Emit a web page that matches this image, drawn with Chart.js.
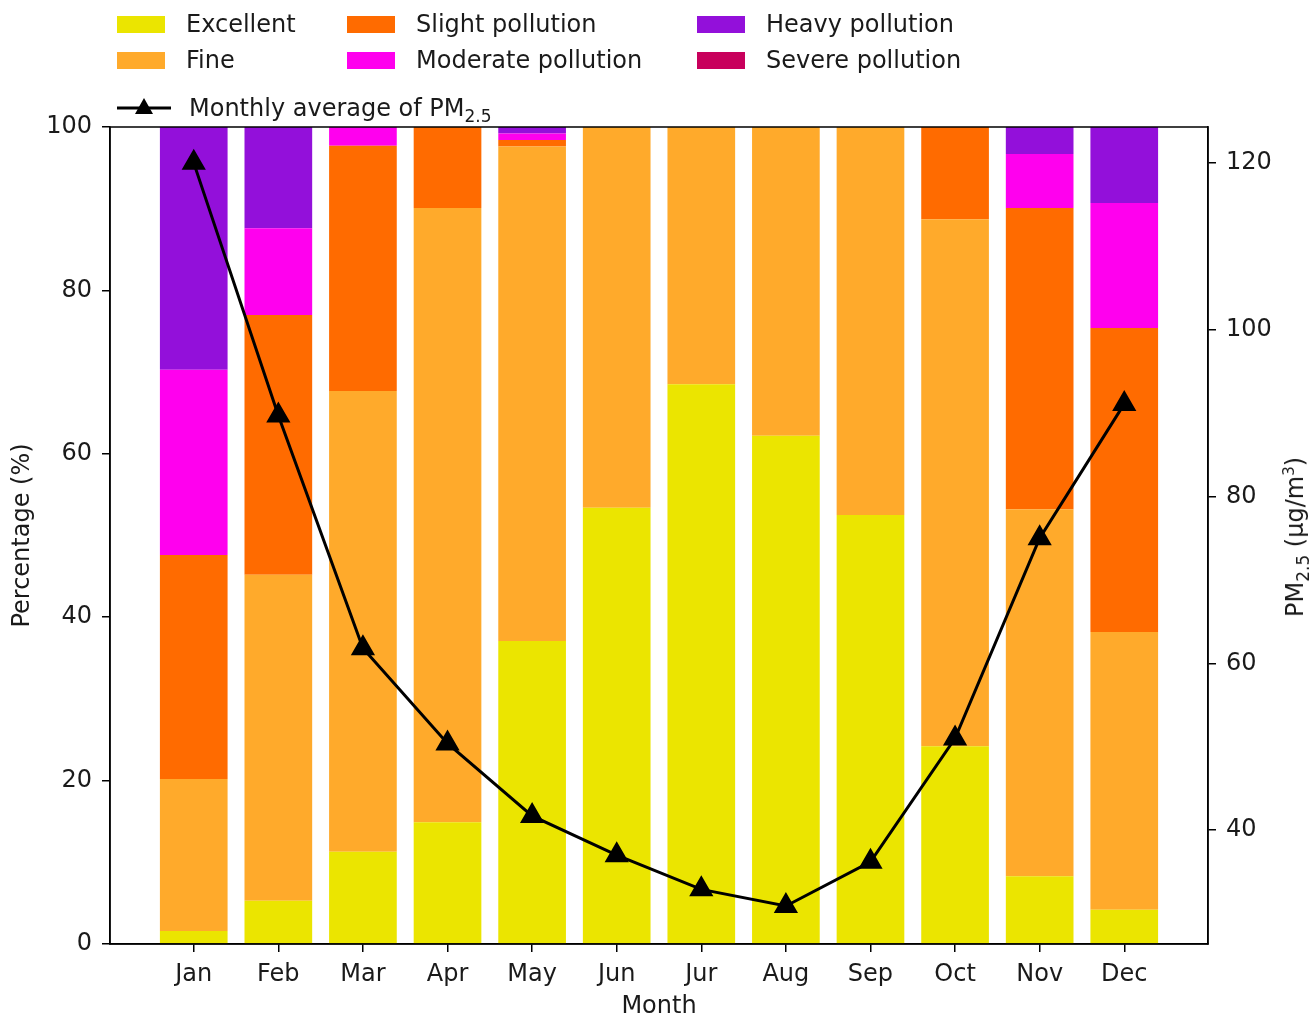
<!DOCTYPE html>
<html>
<head>
<meta charset="utf-8">
<script src="https://cdn.jsdelivr.net/npm/chart.js@4.4.1/dist/chart.umd.min.js"></script>
<style>
  body { margin: 0; background: #fff; font-family: "DejaVu Sans", sans-serif; color: #1a1a1a; }
  #wrap { position: relative; width: 1309px; height: 1017px; }
  #chart-box { position: absolute; left: 0; top: 0; width: 1309px; height: 1017px; }
  .leg { position: absolute; font-size: 24px; line-height: 28px; white-space: nowrap; }
  .sw { position: absolute; width: 48px; height: 17px; }
  .sub { font-size: 17px; position: relative; top: 6px; }
  .sup { font-size: 15px; position: relative; top: -9px; }
  #ytitle2 { position: absolute; left: 1295px; top: 537px; font-size: 24px; white-space: nowrap;
             transform: translate(-50%, -50%) rotate(-90deg); }
</style>
</head>
<body>
<div id="wrap">
  <div id="chart-box"><canvas id="pm-chart"></canvas></div>
  <div id="legend"></div>
  <div id="ytitle2">PM<span class="sub">2.5</span> (μg/m<span class="sup">3</span>)</div>
</div>
<script>
// categories
const months = ['Jan', 'Feb', 'Mar', 'Apr', 'May', 'Jun', 'Jur', 'Aug', 'Sep', 'Oct', 'Nov', 'Dec'];

// share of days per air quality level (%)
const excellent = [1.6, 5.3, 11.3, 14.9, 37.1, 53.4, 68.5, 62.2, 52.5, 24.2, 8.3, 4.2];
const fine      = [18.6, 39.9, 56.4, 75.2, 60.5, 46.6, 31.5, 37.8, 47.5, 64.5, 44.9, 34.0];
const slight    = [27.4, 31.8, 30.0, 9.9, 0.8, 0, 0, 0, 0, 11.3, 36.9, 37.2];
const moderate  = [22.7, 10.6, 2.3, 0, 0.8, 0, 0, 0, 0, 0, 6.6, 15.3];
const heavy     = [29.7, 12.4, 0, 0, 0.8, 0, 0, 0, 0, 0, 3.3, 9.3];
const severe    = [0, 0, 0, 0, 0, 0, 0, 0, 0, 0, 0, 0];

// monthly average PM2.5 (ug/m3)
const pm25 = [120.0, 89.7, 61.8, 50.4, 41.7, 37.0, 32.9, 30.9, 36.2, 51.0, 75.0, 91.1];

// tick labels
const pctTicks = [0, 20, 40, 60, 80, 100];
const pmTicks = [40, 60, 80, 100, 120];

const levels = [
    { label: 'Excellent', data: excellent, color: '#ebe500' },
    { label: 'Fine', data: fine, color: '#ffaa2b' },
    { label: 'Slight pollution', data: slight, color: '#ff6b00' },
    { label: 'Moderate pollution', data: moderate, color: '#ff00ee' },
    { label: 'Heavy pollution', data: heavy, color: '#9310da' },
    { label: 'Severe pollution', data: severe, color: '#c8005c' }
];

// HTML legend (3 columns x 2 rows, then the line entry)
const legendEl = document.getElementById('legend');
levels.forEach((lvl, k) => {
    const col = Math.floor(k / 2);
    const row = k % 2;
    const sx = [117, 347, 697][col];
    const ty = [10, 46][row];
    const sw = document.createElement('div');
    sw.className = 'sw';
    sw.style.left = sx + 'px';
    sw.style.top = (ty + 6) + 'px';
    sw.style.background = lvl.color;
    legendEl.appendChild(sw);
    const t = document.createElement('div');
    t.className = 'leg';
    t.style.left = (sx + 69) + 'px';
    t.style.top = ty + 'px';
    t.textContent = lvl.label;
    legendEl.appendChild(t);
});
const lineItem = document.createElement('div');
lineItem.innerHTML =
    '<svg style="position:absolute;left:115px;top:96px" width="60" height="24">' +
    '<line x1="2" y1="12" x2="56" y2="12" stroke="#000" stroke-width="3"/>' +
    '<polygon points="29,2 38,18 20,18" fill="#000"/></svg>' +
    '<div class="leg" style="left:189px;top:94px">Monthly average of PM<span class="sub">2.5</span></div>';
legendEl.appendChild(lineItem);

// frame around the plot area
const framePlugin = {
    id: 'frame',
    afterDatasetsDraw(chart) {
        const a = chart.chartArea;
        const ctx = chart.ctx;
        ctx.save();
        ctx.strokeStyle = '#000';
        ctx.lineWidth = 1.5;
        ctx.strokeRect(a.left, a.top, a.right - a.left, a.bottom - a.top);
        ctx.restore();
    }
};

const tickFont = { family: 'DejaVu Sans', size: 24 };

const datasets = levels.map(l => ({
    type: 'bar',
    label: l.label,
    data: l.data.map((v, i) => ({ x: i, y: v })),
    backgroundColor: l.color,
    borderWidth: 0,
    barPercentage: 0.8,
    categoryPercentage: 1.0,
    yAxisID: 'y',
    order: 2
}));

datasets.push({
    type: 'line',
    label: 'Monthly average of PM2.5',
    data: pm25.map((v, i) => ({ x: i, y: v })),
    borderColor: '#000',
    borderWidth: 3,
    pointStyle: 'triangle',
    pointRadius: 11,
    pointBackgroundColor: '#000',
    pointBorderColor: '#000',
    tension: 0,
    yAxisID: 'y1',
    order: 1
});

const ctx = document.getElementById('pm-chart').getContext('2d');
new Chart(ctx, {
    data: { datasets },
    options: {
        responsive: true,
        maintainAspectRatio: false,
        animation: false,
        layout: { padding: { top: 127, left: 0, right: 0, bottom: 0 } },
        plugins: {
            legend: { display: false },
            tooltip: { enabled: false }
        },
        scales: {
            x: {
                type: 'linear',
                min: -0.99,
                max: 11.99,
                offset: false,
                stacked: true,
                afterBuildTicks: scale => { scale.ticks = months.map((m, i) => ({ value: i })); },
                afterFit: scale => { scale.height = 73; },
                grid: { offset: false, drawOnChartArea: false, tickLength: 8, color: '#000', lineWidth: 1.5 },
                border: { display: true, color: '#000', width: 1.5 },
                ticks: {
                    color: '#1a1a1a', font: tickFont, padding: 8, maxRotation: 0, autoSkip: false,
                    callback: v => months[v]
                },
                title: {
                    display: true, text: 'Month', color: '#1a1a1a',
                    font: tickFont, padding: { top: 0, bottom: -4 }
                }
            },
            y: {
                position: 'left',
                min: 0,
                max: 100,
                stacked: true,
                afterBuildTicks: scale => { scale.ticks = pctTicks.map(v => ({ value: v })); },
                afterFit: scale => { scale.width = 110; },
                grid: { drawOnChartArea: false, tickLength: 8, color: '#000', lineWidth: 1.5 },
                border: { display: true, color: '#000', width: 1.5 },
                ticks: { color: '#1a1a1a', font: tickFont, padding: 10 },
                title: {
                    display: true, text: 'Percentage (%)', color: '#1a1a1a',
                    font: tickFont, padding: { top: 8, bottom: 0 }
                }
            },
            y1: {
                position: 'right',
                min: 26.35,
                max: 124.3,
                afterBuildTicks: scale => { scale.ticks = pmTicks.map(v => ({ value: v })); },
                afterFit: scale => { scale.width = 101; },
                grid: { drawOnChartArea: false, tickLength: 8, color: '#000', lineWidth: 1.5 },
                border: { display: true, color: '#000', width: 1.5 },
                ticks: { color: '#1a1a1a', font: tickFont, padding: 10 }
            }
        }
    },
    plugins: [framePlugin]
});
</script>
</body>
</html>
